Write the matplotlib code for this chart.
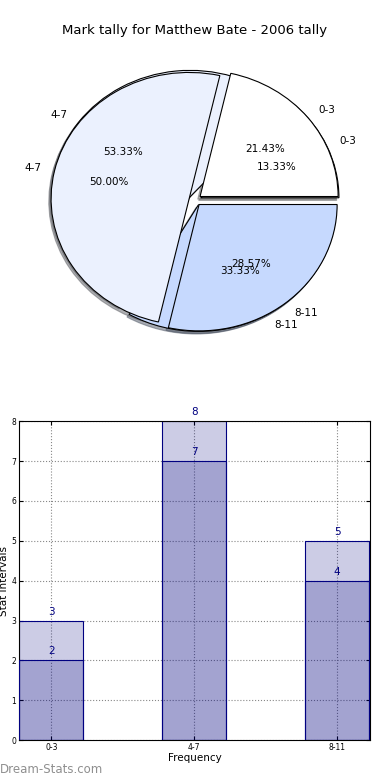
import matplotlib
matplotlib.use('Agg')
import matplotlib.pyplot as plt

title = 'Mark tally for Matthew Bate - 2006 tally'
categories = ['0-3', '4-7', '8-11']
pie_back = [2, 8, 5]
pie_front = [3, 7, 4]
bar_total = [3, 8, 5]
bar_inner = [2, 7, 4]
pie_colors = ['#ffffff', '#ebf1fe', '#c6d9fe']

fig = plt.figure(figsize=(3.9, 7.8), dpi=100)
fig.text(0.5, 0.961, title, ha='center', va='center', fontsize=9.5)

# pie part, two pies on the same axes (not equal aspect, so it is an ellipse)
ax1 = fig.add_axes([0.058, 0.541, 0.885, 0.405])
for vals in (pie_back, pie_front):
    ax1.pie(vals, labels=categories, colors=pie_colors, autopct='%1.2f%%',
            explode=[0.045] * 3, shadow={'ox': -0.012, 'oy': -0.015, 'shade': 0.6},
            startangle=0,
            wedgeprops={'edgecolor': 'black', 'linewidth': 0.8},
            textprops={'fontsize': 7.5})
ax1.set_aspect('auto')
ax1.set_xlim(-1.25, 1.25)
ax1.set_ylim(-1.25, 1.25)
ax1.axis('off')

# bar part
ax2 = fig.add_axes([0.049, 0.051, 0.9, 0.409])
x = list(range(len(categories)))
face = (0, 0, 0.5, 0.2)
ax2.bar(x, bar_total, width=0.45, color=face, edgecolor='navy', linewidth=0.8, zorder=2)
ax2.bar(x, bar_inner, width=0.45, color=face, edgecolor='navy', linewidth=0.8, zorder=3)
for xi, v in zip(x, bar_total):
    ax2.text(xi, v + 0.1, str(v), ha='center', va='bottom', color='navy', fontsize=7.5, clip_on=False)
for xi, v in zip(x, bar_inner):
    ax2.text(xi, v + 0.1, str(v), ha='center', va='bottom', color='navy', fontsize=7.5)

ax2.set_xlim(-0.225, 2.23)
ax2.set_ylim(0, 8)
ax2.set_xticks(x)
ax2.set_xticklabels(categories)
ax2.set_yticks(range(9))
ax2.tick_params(direction='in', top=True, right=True, labelsize=5.5, length=3, pad=2)
ax2.grid(True, linestyle=':', color='#888888', linewidth=0.8, zorder=0)
ax2.set_axisbelow(True)
ax2.set_xlabel('Frequency', fontsize=7.5, labelpad=1)
ax2.set_ylabel('Stat Intervals', fontsize=7.5, labelpad=2)

fig.text(0.0, 0.013, 'Dream-Stats.com', color='#8f8f8f', fontsize=8.5, ha='left', va='center')

fig.savefig('out.png', dpi=100)
